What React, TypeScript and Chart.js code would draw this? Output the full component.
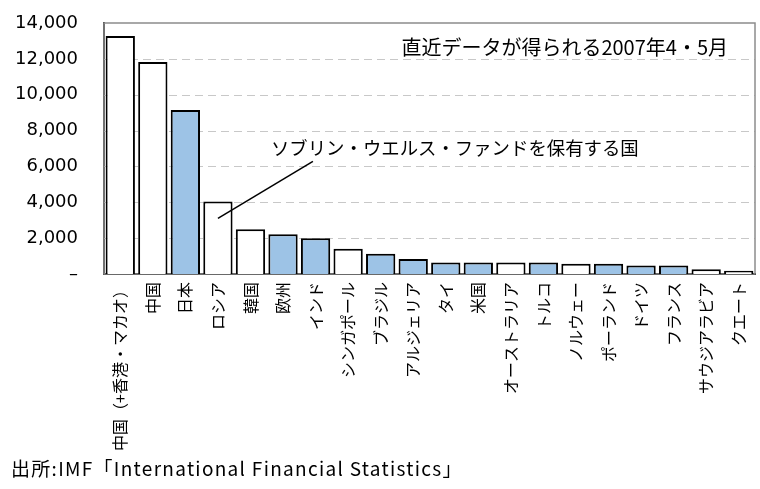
import React, { useEffect, useRef } from "react";
import { Chart, registerables } from "chart.js";

Chart.register(...registerables);

const categories: string[] = [
  "中国（+香港・マカオ）",
  "中国",
  "日本",
  "ロシア",
  "韓国",
  "欧州",
  "インド",
  "シンガポール",
  "ブラジル",
  "アルジェリア",
  "タイ",
  "米国",
  "オーストラリア",
  "トルコ",
  "ノルウェー",
  "ポーランド",
  "ドイツ",
  "フランス",
  "サウジアラビア",
  "クエート",
];

const reserves: number[] = [
  13280, 11830, 9150, 4040, 2500, 2220, 2000, 1410, 1130, 830, 640, 640, 640, 640, 570, 570, 470, 470,
  270, 180,
];

// true = ソブリン・ウエルス・ファンドを保有する国 (white bars)
const hasSWF: boolean[] = [
  true, true, false, true, true, false, false, true, false, false, false, false, true, false, true, false,
  false, false, true, true,
];

const yTicks: number[] = [0, 2000, 4000, 6000, 8000, 10000, 12000, 14000];

const noteDate = "直近データが得られる2007年4・5月";
const noteSWF = "ソブリン・ウエルス・ファンドを保有する国";
const source = "出所:IMF「International Financial Statistics」";

const JP = "'Noto Sans CJK JP', 'Noto Sans', sans-serif";
const NUM = "'DejaVu Sans', 'Liberation Sans', sans-serif";

export default function App() {
  const ref = useRef<HTMLCanvasElement | null>(null);

  useEffect(() => {
    if (!ref.current) return;

    const annot = {
      id: "annot",
      beforeDatasetsDraw(chart: any) {
        const { ctx, chartArea, scales } = chart;
        const ys = scales.y;
        ctx.save();
        ctx.strokeStyle = "#c8c8c8";
        ctx.lineWidth = 1.2;
        ctx.setLineDash([8, 5]);
        yTicks.forEach((v) => {
          if (v === 0 || v === 14000) return;
          const y = Math.round(ys.getPixelForValue(v)) + 0.5;
          ctx.beginPath();
          ctx.moveTo(chartArea.left, y);
          ctx.lineTo(chartArea.right, y);
          ctx.stroke();
        });
        ctx.setLineDash([]);
        ctx.strokeStyle = "#8c8c8c";
        ctx.lineWidth = 1.5;
        ctx.strokeRect(chartArea.left, chartArea.top, chartArea.right - chartArea.left, chartArea.bottom - chartArea.top);
        ctx.restore();
      },
      afterDatasetsDraw(chart: any) {
        const { ctx, chartArea, scales } = chart;
        const xs = scales.x;
        const ys = scales.y;
        ctx.save();
        // callout line from the ロシア bar
        const x0 = xs.getPixelForValue(3);
        const y0 = ys.getPixelForValue(3100);
        ctx.strokeStyle = "#000";
        ctx.lineWidth = 1.5;
        ctx.beginPath();
        ctx.moveTo(x0, y0);
        ctx.lineTo(x0 + 95, y0 - 57);
        ctx.stroke();

        ctx.fillStyle = "#000";
        ctx.textBaseline = "middle";
        ctx.textAlign = "left";
        ctx.font = `18.4px ${JP}`;
        ctx.fillText(noteSWF, x0 + 53, ys.getPixelForValue(7000));

        ctx.textAlign = "right";
        ctx.font = `20px ${JP}`;
        ctx.fillText(noteDate, chartArea.right - 27, chartArea.top + 24);
        ctx.restore();
      },
    };

    const chart: any = new Chart(ref.current, {
      type: "bar",
      data: {
        labels: categories,
        datasets: [
          {
            data: reserves,
            backgroundColor: hasSWF.map((w) => (w ? "#ffffff" : "#9dc3e6")),
            borderColor: "#000000",
            borderWidth: 2,
            borderSkipped: "bottom",
            barPercentage: 0.9,
            categoryPercentage: 1.0,
          },
        ],
      },
      options: {
        responsive: false,
        animation: false,
        events: [],
        layout: { padding: { left: 0, top: 23, right: 5, bottom: 0 } },
        plugins: {
          legend: { display: false },
          tooltip: { enabled: false },
          title: { display: false },
        },
        scales: {
          x: {
            grid: { display: false, drawTicks: false },
            border: { color: "#000", width: 2 },
            afterFit(scale: any) {
              scale.height = 215;
              scale.paddingLeft = 0;
              scale.paddingRight = 0;
            },
            ticks: {
              autoSkip: false,
              maxRotation: 90,
              minRotation: 90,
              padding: 8,
              color: "#000",
              font: { family: JP, size: 16 },
            },
          },
          y: {
            min: 0,
            max: 14000,
            afterBuildTicks(scale: any) {
              scale.ticks = yTicks.map((v) => ({ value: v }));
            },
            afterFit(scale: any) {
              scale.width = 104;
              scale.paddingTop = 0;
              scale.paddingBottom = 0;
            },
            grid: { display: false, drawTicks: false },
            border: { color: "#222", width: 2 },
            ticks: {
              padding: 26,
              color: "#000",
              font: { family: NUM, size: 18 },
              callback(v: any) {
                const n = Number(v);
                if (n === 0) return "–";
                return n.toLocaleString("en-US");
              },
            },
          },
        },
      },
      plugins: [annot],
    } as any);

    return () => chart.destroy();
  }, []);

  return (
    <div style={{ position: "fixed", left: 0, top: 0, width: 760, height: 489, background: "#fff" }}>
      <canvas ref={ref} width={760} height={489} style={{ width: 760, height: 489, display: "block" }} />
      <div
        style={{
          position: "absolute",
          left: 11,
          top: 455,
          fontFamily: JP,
          fontSize: 19,
          letterSpacing: "1.3px",
          color: "#000",
          whiteSpace: "nowrap",
          lineHeight: "26px",
        }}
      >
        {source}
      </div>
    </div>
  );
}
